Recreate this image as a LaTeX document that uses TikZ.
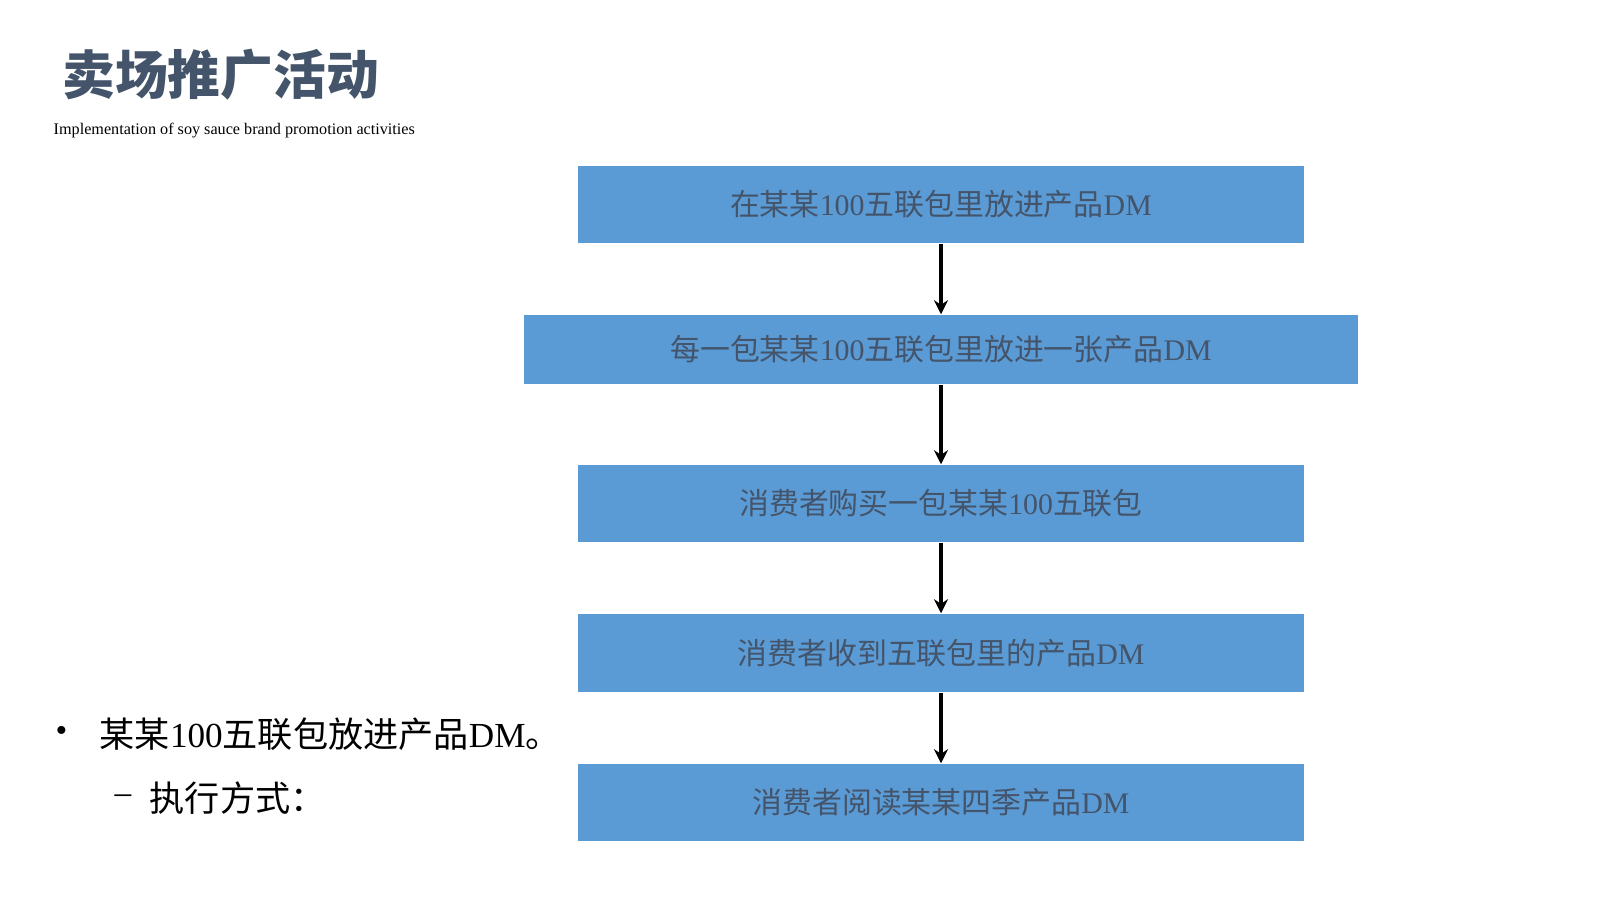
\documentclass[tikz,border=0pt]{standalone}
\usepackage{fontspec}
\setmainfont{Liberation Serif}
\newfontfamily\cjk{Noto Sans CJK SC}
\usetikzlibrary{arrows.meta}
\definecolor{boxblue}{HTML}{5B9BD5}
\definecolor{boxtext}{HTML}{44546A}
\definecolor{titlec}{HTML}{44546A}
\tikzset{
  flowbox/.style={fill=boxblue, draw=none, text=boxtext, font=\fontsize{8.5}{10}\selectfont, inner sep=0pt},
  flowarrow/.style={-{Stealth[length=4pt,width=4pt]}, line width=1.3pt, black}
}
\begin{document}
\begin{tikzpicture}[x=0.01cm,y=-0.01cm]
\useasboundingbox (0,0) rectangle (1600,900);
\node[anchor=west, text=titlec, font=\cjk\bfseries\fontsize{15}{18}\selectfont] (title) at (50,75) {卖场推广活动};
\node[anchor=west, font=\fontsize{4.6}{6}\selectfont, inner sep=0pt] (sub) at (53,131) {Implementation of soy sauce brand promotion activities};

\node[flowbox, minimum width=7.26cm, minimum height=0.77cm] (b1) at (941,204.5) {{\cjk 在某某}100{\cjk 五联包里放进产品}DM};
\node[flowbox, minimum width=8.34cm, minimum height=0.69cm] (b2) at (941,349.5) {{\cjk 每一包某某}100{\cjk 五联包里放进一张产品}DM};
\node[flowbox, minimum width=7.26cm, minimum height=0.77cm] (b3) at (941,503.5) {{\cjk 消费者购买一包某某}100{\cjk 五联包}};
\node[flowbox, minimum width=7.26cm, minimum height=0.78cm] (b4) at (941,653) {{\cjk 消费者收到五联包里的产品}DM};
\node[flowbox, minimum width=7.26cm, minimum height=0.77cm] (b5) at (941,802.5) {{\cjk 消费者阅读某某四季产品}DM};

\draw[flowarrow] (b1.south) -- (b2.north);
\draw[flowarrow] (b2.south) -- (b3.north);
\draw[flowarrow] (b3.south) -- (b4.north);
\draw[flowarrow] (b4.south) -- (b5.north);

\node[anchor=west, font=\fontsize{9.5}{11}\selectfont, inner sep=0pt] (bul) at (55,734) {•};
\node[anchor=west, font=\fontsize{10}{12}\selectfont, inner sep=0pt] (t1) at (99,734) {{\cjk 某某}100{\cjk 五联包放进产品}DM{\cjk 。}};
\node[anchor=west, font=\fontsize{9.5}{11}\selectfont, inner sep=0pt] (dash) at (114,799) {–};
\node[anchor=west, font=\cjk\fontsize{10}{12}\selectfont, inner sep=0pt] (t2) at (149,798) {执行方式：};
\end{tikzpicture}
\end{document}
